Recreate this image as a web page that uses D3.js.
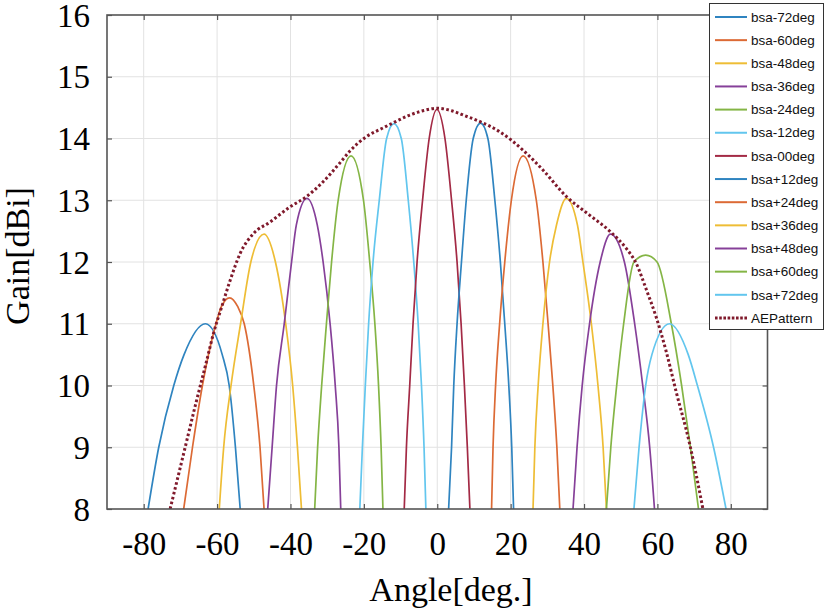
<!DOCTYPE html>
<html>
<head>
<meta charset="utf-8">
<script src="https://cdn.jsdelivr.net/npm/d3@7"></script>
<style>
  html, body { margin: 0; padding: 0; background: #fff; }
  svg { display: block; }
</style>
</head>
<body>
<div id="chart"></div>
<script>
// ---------------- data ----------------
const xTicks = [-80, -60, -40, -20, 0, 20, 40, 60, 80];
const yTicks = [8, 9, 10, 11, 12, 13, 14, 15, 16];

const seriesNames = ["bsa-72deg", "bsa-60deg", "bsa-48deg", "bsa-36deg", "bsa-24deg", "bsa-12deg",
  "bsa-00deg", "bsa+12deg", "bsa+24deg", "bsa+36deg", "bsa+48deg", "bsa+60deg", "bsa+72deg", "AEPattern"];

const bsaM72Angle = [-78.8, -75.9, -71.8, -69.0, -63.2, -58.6, -56.7, -55.0, -53.7];
const bsaM72Gain  = [8, 9, 10, 10.5, 11.0, 10.5, 10, 9, 8];

const bsaM60Angle = [-69.1, -66.7, -64.0, -60.3, -58.8, -56.6, -54.4, -52.6, -50.0, -48.3, -47.2];
const bsaM60Gain  = [8, 9, 10, 11, 11.28, 11.42, 11.28, 11, 10, 9, 8];

const bsaM48Angle = [-59.4, -58.2, -56.2, -53.6, -50.8, -47.2, -44.1, -41.3, -39.4, -38.1, -37.0];
const bsaM48Gain  = [8, 9, 10, 11, 12, 12.45, 12, 11, 10, 9, 8];

const bsaM36Angle = [-46.2, -45.0, -43.8, -41.7, -39.7, -38.4, -35.5, -32.7, -31.1, -29.2, -27.8, -26.8, -26.3];
const bsaM36Gain  = [8, 9, 10, 11, 12, 12.6, 13.03, 12.6, 12, 11, 10, 9, 8];

const bsaM24Angle = [-33.4, -32.6, -31.5, -30.2, -28.8, -27.0, -23.5, -20.1, -18.4, -17.0, -16.0, -15.3, -14.8];
const bsaM24Gain  = [8, 9, 10, 11, 12, 13, 13.72, 13, 12, 11, 10, 9, 8];

const bsaM12Angle = [-21.1, -20.4, -19.6, -18.7, -17.5, -15.8, -13.8, -11.8, -9.8, -7.9, -6.4, -5.2, -4.3, -3.6, -3.1];
const bsaM12Gain  = [8, 9, 10, 11, 12, 13, 14, 14.24, 14, 13, 12, 11, 10, 9, 8];

const bsa00Angle  = [-9.0, -8.4, -7.5, -6.6, -5.5, -4.0, -2.2, -0.1, 2.1, 3.9, 5.4, 6.5, 7.4, 8.2, 8.9];
const bsa00Gain   = [8, 9, 10, 11, 12, 13, 14, 14.47, 14, 13, 12, 11, 10, 9, 8];

const bsaP12Angle = [3.1, 3.9, 4.5, 5.4, 6.6, 7.9, 9.8, 11.8, 13.8, 15.7, 17.2, 18.4, 19.5, 20.3, 20.8];
const bsaP12Gain  = [8, 9, 10, 11, 12, 13, 14, 14.25, 14, 13, 12, 11, 10, 9, 8];

const bsaP24Angle = [14.8, 15.2, 15.9, 17.0, 18.4, 20.2, 23.4, 27.0, 28.8, 30.2, 31.5, 32.6, 33.4];
const bsaP24Gain  = [8, 9, 10, 11, 12, 13, 13.72, 13, 12, 11, 10, 9, 8];

const bsaP36Angle = [26.1, 26.6, 27.5, 28.8, 30.6, 32.5, 35.2, 38.2, 39.7, 42.0, 43.8, 45.2, 46.1];
const bsaP36Gain  = [8, 9, 10, 11, 12, 12.6, 13.03, 12.6, 12, 11, 10, 9, 8];

const bsaP48Angle = [37.0, 38.1, 39.5, 41.5, 44.4, 47.2, 51.0, 53.8, 56.0, 57.9, 59.2];
const bsaP48Gain  = [8, 9, 10, 11, 12, 12.45, 12, 11, 10, 9, 8];

const bsaP60Angle = [46.1, 47.3, 48.9, 50.8, 53.6, 56.8, 59.9, 63.8, 66.6, 69.0, 71.2];
const bsaP60Gain  = [8, 9, 10, 11, 12, 12.11, 12, 11, 10, 9, 8];

const bsaP72Angle = [53.6, 55.0, 56.8, 58.5, 63.3, 68.4, 70.9, 75.3, 78.7];
const bsaP72Gain  = [8, 9, 10, 10.5, 11.0, 10.5, 10, 9, 8];

const aeAngle = [-72.8, -69.1, -66.0, -62.8, -61.0, -58.7, -56.4, -53.7, -50.1, -45.5, -40.2, -35.6, -31.1,
  -26.6, -23.6, -19.3, -14.8, -11.8, -7.5, -3.9, 0, 3.9, 7.5, 11.8, 17.0, 23.4, 28.8, 35.2, 41.5, 47.2,
  51.5, 54.2, 57.0, 59.7, 62.4, 65.1, 68.8, 72.4];
const aeGain = [8.0, 8.9, 9.66, 10.41, 10.84, 11.28, 11.71, 12.14, 12.46, 12.65, 12.89, 13.06, 13.30,
  13.60, 13.81, 14.03, 14.17, 14.26, 14.38, 14.45, 14.49, 14.45, 14.37, 14.27, 14.11, 13.81, 13.49, 13.06,
  12.76, 12.49, 12.22, 11.98, 11.55, 11.1, 10.55, 9.9, 9.05, 8.0];

const seriesAngles = [bsaM72Angle, bsaM60Angle, bsaM48Angle, bsaM36Angle, bsaM24Angle, bsaM12Angle,
  bsa00Angle, bsaP12Angle, bsaP24Angle, bsaP36Angle, bsaP48Angle, bsaP60Angle, bsaP72Angle, aeAngle];
const seriesGains = [bsaM72Gain, bsaM60Gain, bsaM48Gain, bsaM36Gain, bsaM24Gain, bsaM12Gain,
  bsa00Gain, bsaP12Gain, bsaP24Gain, bsaP36Gain, bsaP48Gain, bsaP60Gain, bsaP72Gain, aeGain];

// ---------------- styles ----------------
const palette = ["#2f84c0", "#dc6a35", "#eebd35", "#864099", "#84b545", "#62c6ee", "#a32a45"];
const seriesColors = seriesNames.map((n, i) => i === 13 ? "#801a2c" : palette[i % 7]);

const W = 827, H = 615;
const plot = { left: 107, right: 767.5, top: 15, bottom: 509 };
const serif = "'Liberation Serif','Times New Roman',Times,serif";
const sans = "'Liberation Sans',Arial,Helvetica,sans-serif";

const svg = d3.select("#chart").append("svg").attr("width", W).attr("height", H);

const x = d3.scaleLinear().domain([-90, 90]).range([plot.left, plot.right]);
const y = d3.scaleLinear().domain([8, 16]).range([plot.bottom, plot.top]);

// grid
const grid = svg.append("g").attr("stroke", "#e2e2e2").attr("stroke-width", 1);
grid.selectAll("line.v").data(xTicks).join("line")
  .attr("x1", d => x(d)).attr("x2", d => x(d)).attr("y1", plot.top).attr("y2", plot.bottom);
grid.selectAll("line.h").data(yTicks.slice(1, -1)).join("line")
  .attr("x1", plot.left).attr("x2", plot.right).attr("y1", d => y(d)).attr("y2", d => y(d));

// clip
svg.append("clipPath").attr("id", "clip").append("rect")
  .attr("x", plot.left).attr("y", plot.top)
  .attr("width", plot.right - plot.left).attr("height", plot.bottom - plot.top);

const line = d3.line().x(d => x(d[0])).y(d => y(d[1])).curve(d3.curveMonotoneX);
const curves = svg.append("g").attr("clip-path", "url(#clip)");
seriesNames.forEach((name, i) => {
  const pts = seriesAngles[i].map((a, j) => [a, seriesGains[i][j]]);
  const p = curves.append("path").datum(pts).attr("d", line)
    .attr("fill", "none").attr("stroke", seriesColors[i]);
  if (i === 13) {
    p.attr("stroke-width", 3).attr("stroke-dasharray", "2.6,2.4");
  } else {
    p.attr("stroke-width", 1.7);
  }
});

// axes
const axisColor = "#555";
const bottomAxis = svg.append("g").attr("transform", `translate(0,${plot.bottom})`)
  .call(d3.axisBottom(x).tickValues(xTicks).tickSizeInner(-5).tickSizeOuter(0).tickPadding(23)
    .tickFormat(d3.format("d")));
const leftAxis = svg.append("g").attr("transform", `translate(${plot.left},0)`)
  .call(d3.axisLeft(y).tickValues(yTicks).tickSizeInner(-5).tickSizeOuter(0).tickPadding(17)
    .tickFormat(d3.format("d")));
const topAxis = svg.append("g").attr("transform", `translate(0,${plot.top})`)
  .call(d3.axisTop(x).tickValues(xTicks).tickSizeInner(-5).tickSizeOuter(0).tickFormat(""));
const rightAxis = svg.append("g").attr("transform", `translate(${plot.right},0)`)
  .call(d3.axisRight(y).tickValues(yTicks).tickSizeInner(-5).tickSizeOuter(0).tickFormat(""));

[bottomAxis, leftAxis, topAxis, rightAxis].forEach(g => {
  g.select(".domain").remove();
  g.selectAll(".tick line").attr("stroke", axisColor).attr("stroke-width", 1.2);
  g.selectAll("text").attr("font-family", serif).attr("font-size", 33).attr("fill", "#000");
});
bottomAxis.selectAll("text").text(d => d < 0 ? "-" + Math.abs(d) : d);
leftAxis.selectAll("text").attr("dy", "0.34em");

// frame
svg.append("rect").attr("x", plot.left).attr("y", plot.top)
  .attr("width", plot.right - plot.left).attr("height", plot.bottom - plot.top)
  .attr("fill", "none").attr("stroke", axisColor).attr("stroke-width", 1.6);

// axis titles
svg.append("text").attr("x", 451).attr("y", 601).attr("text-anchor", "middle")
  .attr("font-family", serif).attr("font-size", 34).text("Angle[deg.]");
svg.append("text").attr("transform", "translate(29,256) rotate(-90)").attr("text-anchor", "middle")
  .attr("font-family", serif).attr("font-size", 34).text("Gain[dBi]");

// legend
const lg = svg.append("g");
lg.append("rect").attr("x", 709.5).attr("y", 3.5).attr("width", 114).attr("height", 326)
  .attr("fill", "#fff").attr("stroke", "#333").attr("stroke-width", 1);
seriesNames.forEach((name, i) => {
  const yy = 17 + i * 23.15;
  const l = lg.append("line").attr("x1", 715).attr("x2", 747).attr("y1", yy).attr("y2", yy)
    .attr("stroke", seriesColors[i]);
  if (i === 13) l.attr("stroke-width", 3).attr("stroke-dasharray", "2.6,1.6");
  else l.attr("stroke-width", 2);
  lg.append("text").attr("x", 751).attr("y", yy).attr("dy", "0.35em")
    .attr("font-family", sans).attr("font-size", 13.5).attr("fill", "#111").text(name);
});
</script>
</body>
</html>
